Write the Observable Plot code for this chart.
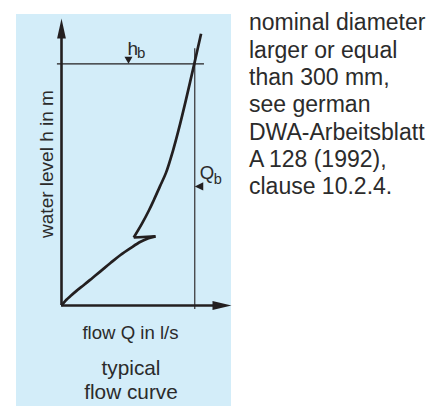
<!DOCTYPE html>
<html><head><meta charset="utf-8">
<script src="https://cdn.jsdelivr.net/npm/d3@7"></script>
<script src="https://cdn.jsdelivr.net/npm/@observablehq/plot@0.6"></script>
<style>
body{margin:0;background:#fff;}
#wrap{position:relative;width:446px;height:406px;overflow:hidden;font-family:'Liberation Sans',Arial,Helvetica,sans-serif;}
#panel{position:absolute;left:16px;top:14px;width:215px;height:392px;background:#d3edf9;}
#chart{position:absolute;left:0;top:0;}
#note{position:absolute;left:249px;top:9.4px;font-size:23px;line-height:27.3px;color:#2b2b2b;white-space:nowrap;}
</style></head>
<body>
<div id="wrap"><div id="panel"></div><div id="chart"></div><div id="note"></div></div>
<script>
// flow curve (Q and h as % of axis length)
const lowQ = [0, 1.3, 2.9, 5.3, 8.8, 13.5, 18.2, 22.9, 28.8, 34.7, 40.6, 46.5, 51.2, 55.3];
const lowH = [0, 0.9, 2.0, 3.3, 5.1, 7.3, 9.6, 11.9, 14.8, 17.6, 20.0, 22.2, 23.4, 24.1];
const kinkQ = [55.3, 42.5];
const kinkH = [24.1, 23.7];
const upQ = [42.5, 47.4, 51.4, 54.2, 57.9, 61.5, 65.6, 68.8, 73.1, 78.1, 82.1];
const upH = [23.7, 28.6, 33.1, 36.6, 41.5, 46.3, 54.0, 61.0, 71.4, 84.2, 94.7];
// design values
const hb = 84.2, Qb = 78.4;
const hbLineQ = [-2.4, 84.1];
const QbLineH = [-1.4, 89.5];
const hbMarkQ = 39.4;
const QbMarkH = 41.5;
// texts
const yLabel = "water level h in m";
const xLabel = "flow Q in l/s";
const caption = "typical\nflow curve";
const noteLines = ["nominal diameter", "larger or equal", "than 300 mm,", "see german", "DWA-Arbeitsblatt", "A\u2009128 (1992),", "clause 10.2.4."];

const ink = "#231f20", txt = "#2b2b2b";
const rows = [];
lowQ.forEach((q, i) => rows.push({Q: q, h: lowH[i], seg: "low"}));
kinkQ.forEach((q, i) => rows.push({Q: q, h: kinkH[i], seg: "kink"}));
upQ.forEach((q, i) => rows.push({Q: q, h: upH[i], seg: "up"}));

const headUp = {draw(c){c.moveTo(0,0);c.lineTo(4.4,20);c.lineTo(-4.4,20);c.closePath();}};
const headRight = {draw(c){c.moveTo(0,0);c.lineTo(-19,-4.5);c.lineTo(-19,4.5);c.closePath();}};
const markDown = {draw(c){c.moveTo(0,0);c.lineTo(4,-7);c.lineTo(-4,-7);c.closePath();}};
const markLeft = {draw(c){c.moveTo(0,0);c.lineTo(8.5,-4.2);c.lineTo(8.5,4.2);c.closePath();}};

const chart = Plot.plot({
  width: 446, height: 406,
  marginLeft: 61, marginRight: 215, marginTop: 18, marginBottom: 101,
  x: {domain: [0, 100], axis: null},
  y: {domain: [0, 100], axis: null},
  style: {background: "transparent", fontFamily: "'Liberation Sans', Arial, Helvetica, sans-serif", overflow: "visible"},
  marks: [
    Plot.ruleY([hb], {x1: hbLineQ[0], x2: hbLineQ[1], stroke: ink, strokeWidth: 1.1}),
    Plot.ruleX([Qb], {y1: QbLineH[0], y2: QbLineH[1], stroke: ink, strokeWidth: 1.1}),
    Plot.ruleX([0], {y1: 0, y2: 95, stroke: ink, strokeWidth: 2.6}),
    Plot.ruleY([0], {x1: 0, x2: 95, stroke: ink, strokeWidth: 2.6}),
    Plot.dot([{Q: 0, h: 100}], {x: "Q", y: "h", symbol: headUp, fill: ink, stroke: "none"}),
    Plot.dot([{Q: 100, h: 0}], {x: "Q", y: "h", symbol: headRight, fill: ink, stroke: "none"}),
    Plot.dot([{Q: hbMarkQ, h: hb}], {x: "Q", y: "h", symbol: markDown, fill: ink, stroke: "none"}),
    Plot.dot([{Q: Qb, h: QbMarkH}], {x: "Q", y: "h", symbol: markLeft, fill: ink, stroke: "none"}),
    Plot.line(rows, {x: "Q", y: "h", z: "seg", curve: "catmull-rom", stroke: ink, strokeWidth: 2.7, strokeLinejoin: "miter", strokeLinecap: "butt"}),
    Plot.text([{Q: hbMarkQ, h: hb}], {x: "Q", y: "h", text: () => "h", textAnchor: "start", lineAnchor: "bottom", dx: -1, dy: -9.3, fontSize: 19, fill: txt}),
    Plot.text([{Q: hbMarkQ, h: hb}], {x: "Q", y: "h", text: () => "b", textAnchor: "start", lineAnchor: "bottom", dx: 8.5, dy: -6.3, fontSize: 15, fill: txt}),
    Plot.text([{Q: Qb, h: QbMarkH}], {x: "Q", y: "h", text: () => "Q", textAnchor: "start", lineAnchor: "bottom", dx: 5, dy: -7.7, fontSize: 18.6, fill: txt}),
    Plot.text([{Q: Qb, h: QbMarkH}], {x: "Q", y: "h", text: () => "b", textAnchor: "start", lineAnchor: "bottom", dx: 19, dy: -2.7, fontSize: 14.5, fill: txt}),
    Plot.text([yLabel], {frameAnchor: "left", rotate: -90, textAnchor: "middle", lineAnchor: "bottom", dx: -9, dy: 2, fontSize: 19, fill: txt}),
    Plot.text([xLabel], {frameAnchor: "bottom", textAnchor: "middle", lineAnchor: "bottom", dx: -16, dy: 33, fontSize: 18.6, fill: txt}),
    Plot.text([caption], {frameAnchor: "bottom", textAnchor: "middle", lineAnchor: "bottom", dx: -15.5, dy: 93, fontSize: 20.8, lineHeight: 1.11, fill: txt})
  ]
});
document.getElementById("chart").appendChild(chart);
document.getElementById("note").innerHTML = noteLines.map(s => `<div>${s}</div>`).join("");
</script>
</body></html>
